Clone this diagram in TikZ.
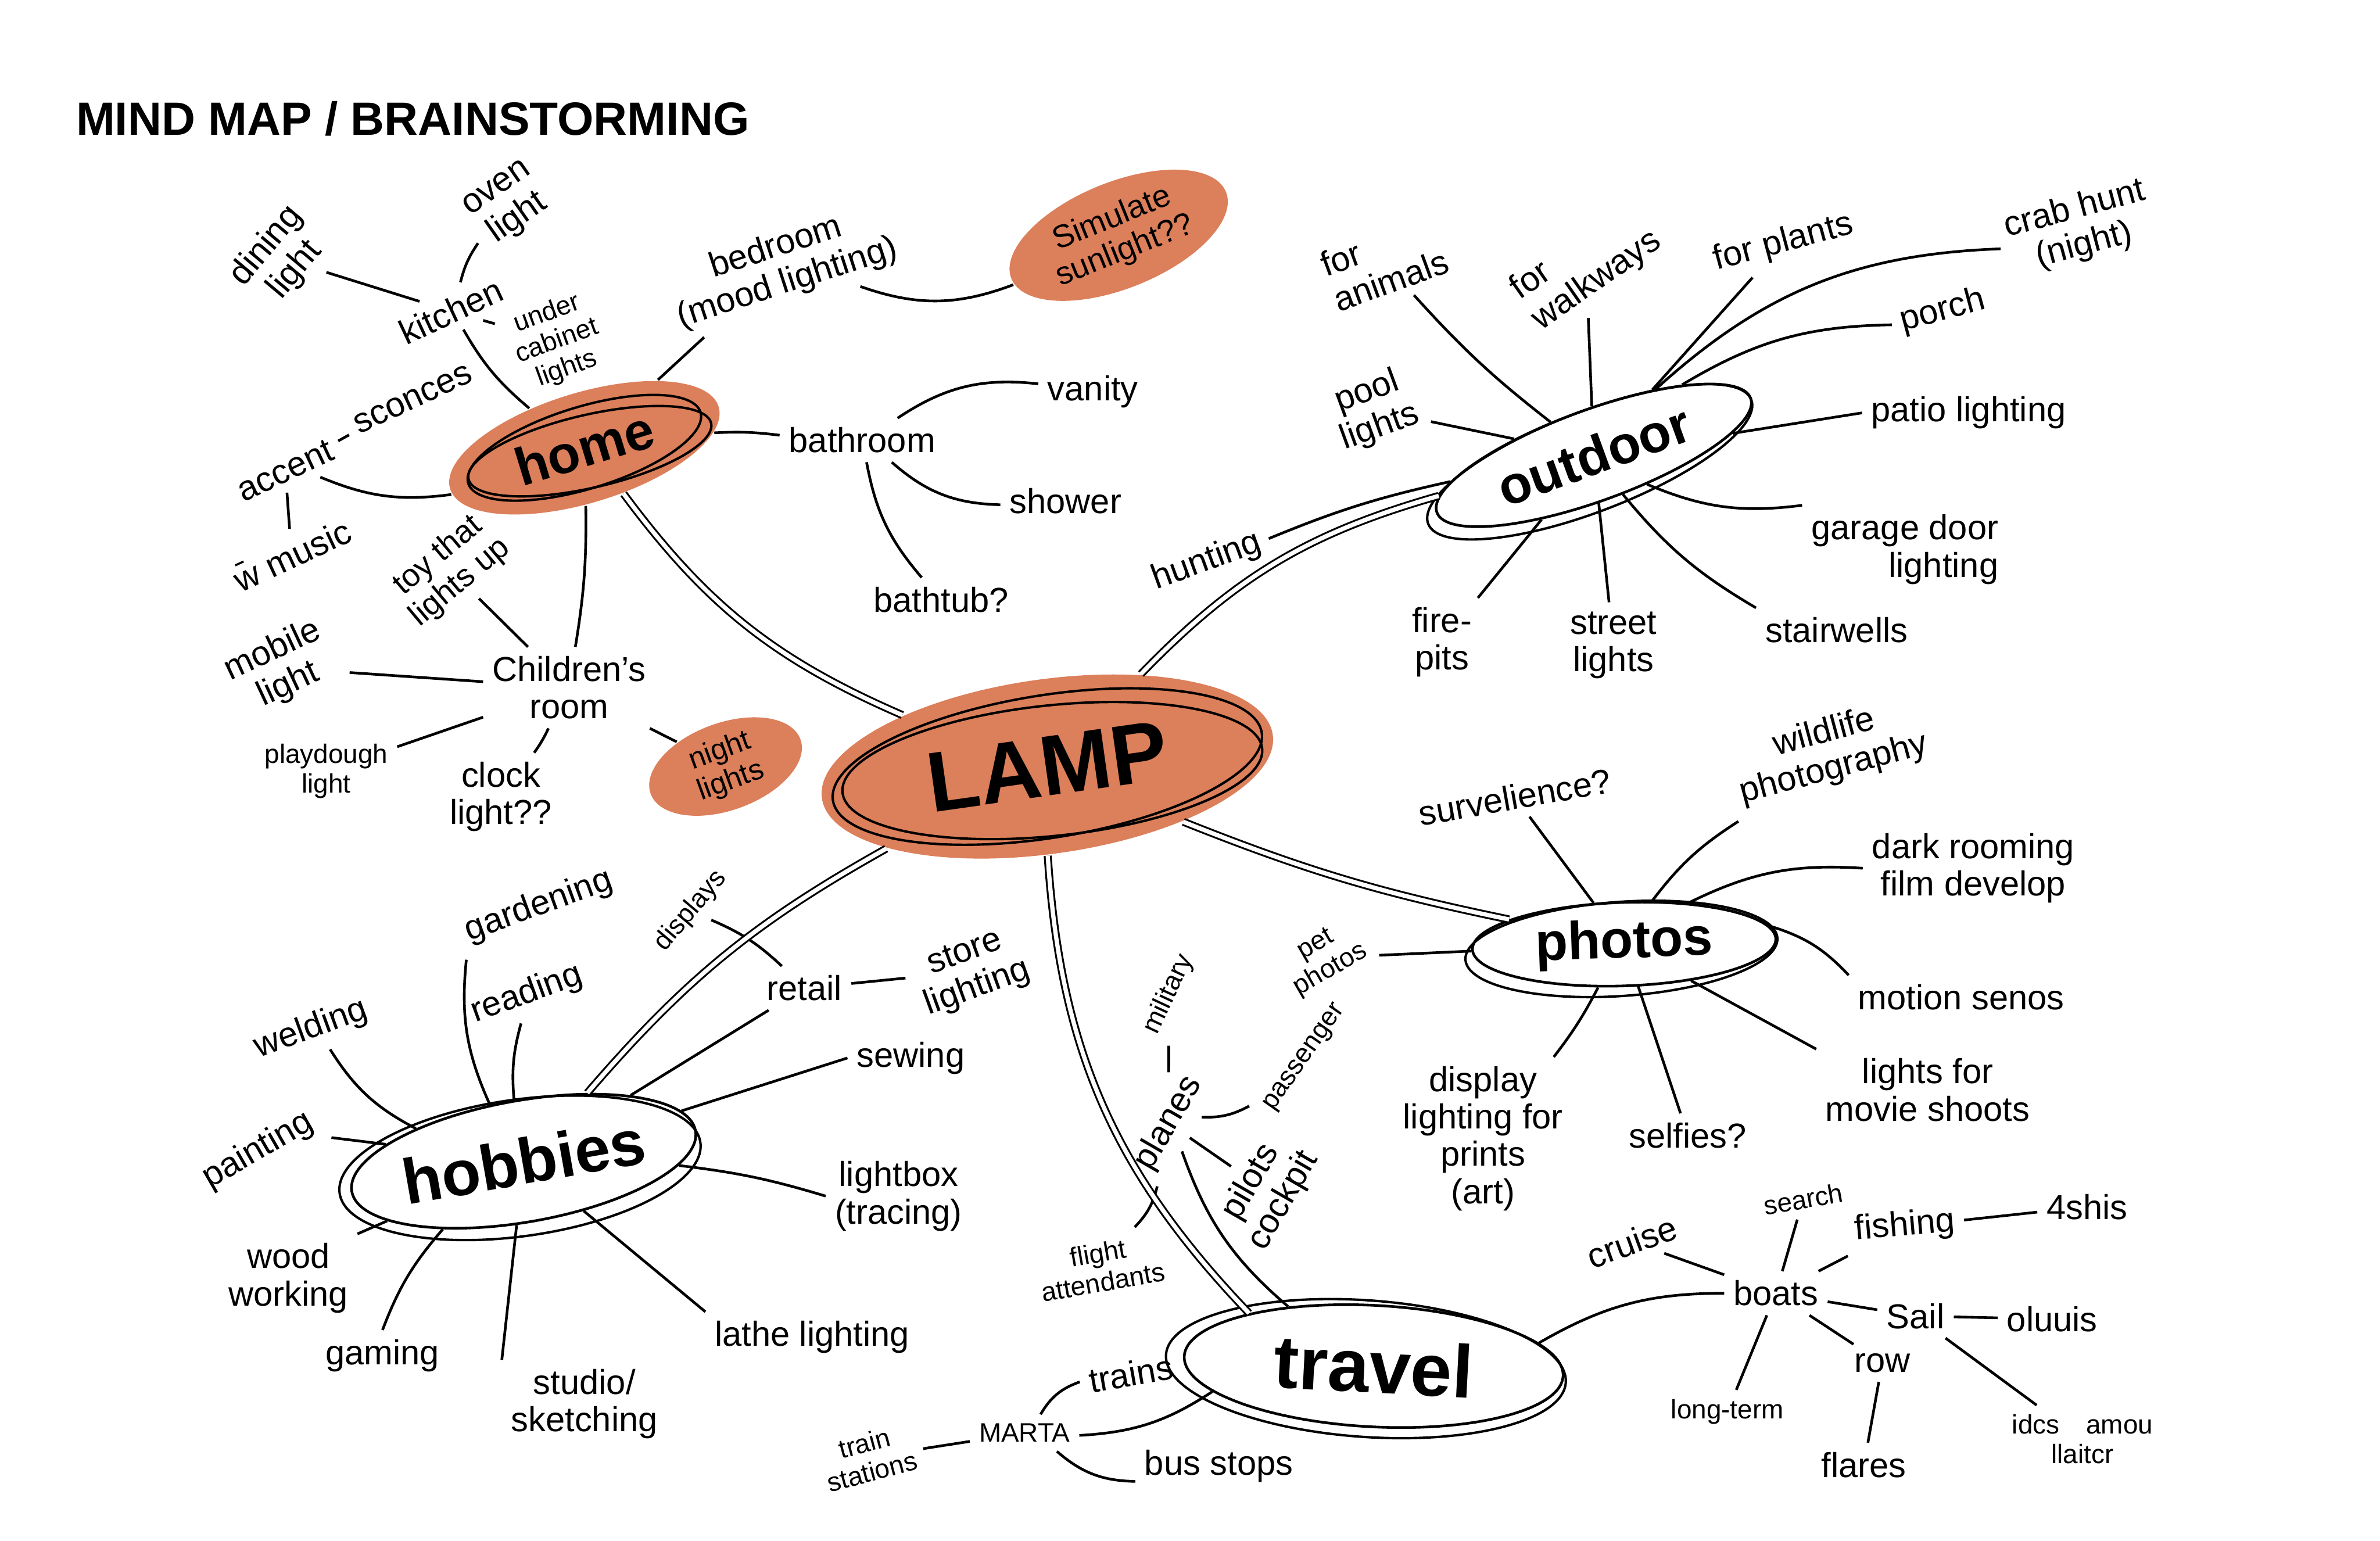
\documentclass[tikz,border=0pt]{standalone}
\usepackage{fontspec}
\setmainfont{Liberation Sans}
\usetikzlibrary{shapes.geometric}
\definecolor{lamporange}{HTML}{DC7F5B}

\tikzset{
  idea/.style={font=\fontsize{13}{14}\selectfont, align=center, inner sep=3pt},
  note/.style={font=\fontsize{10}{11}\selectfont, align=center, inner sep=3pt},
  topic/.style={ellipse, inner sep=0pt, font=\bfseries\fontsize{20}{22}\selectfont},
  ring/.style={line width=0.9pt},
  trunk/.style={double distance=1.6pt, line width=0.7pt},
}

\begin{document}
\begin{tikzpicture}[x=0.02cm,y=0.02cm,line width=1pt,every node/.style={idea}]
  \useasboundingbox (0,0) rectangle (1568,1015);

  \node[anchor=west, font=\bfseries\fontsize{17.5}{20}\selectfont] (title) at (44,937) {MIND MAP / BRAINSTORMING};

  % main topics
  \node[topic, fill=lamporange, rotate=8, minimum width=6cm, minimum height=2.3cm, font=\bfseries\fontsize{32}{34}\selectfont] (lamp) at (690,510) {LAMP};
  \draw[ring, rotate around={9:(lamp.center)}] (lamp.center) ellipse (143 and 47);
  \draw[ring, rotate around={6:(lamp.center)}] (693,507) ellipse (139 and 43);

  \node[topic, fill=lamporange, rotate=17, minimum width=3.7cm, minimum height=1.45cm] (home) at (385,720) {home};
  \draw[ring, rotate around={17:(home.center)}] (home.center) ellipse (80 and 27);
  \draw[ring, rotate around={13:(home.center)}] (388,717) ellipse (82 and 24);

  \node[topic, draw, rotate=20, minimum width=4.4cm, minimum height=1.2cm] (outdoor) at (1050,715) {outdoor};
  \draw[ring, rotate around={21:(outdoor.center)}] (1046,712) ellipse (114 and 33);

  \node[topic, draw, rotate=2, minimum width=4cm, minimum height=1.1cm] (photos) at (1070,393) {photos};
  \draw[ring, rotate around={4:(photos.center)}] (1068,390) ellipse (103 and 31);

  \node[topic, draw, rotate=10, minimum width=4.6cm, minimum height=1.6cm, font=\bfseries\fontsize{24}{26}\selectfont] (hobbies) at (345,250) {hobbies};
  \draw[ring, rotate around={8:(hobbies.center)}] (342,246) ellipse (120 and 45);

  \node[topic, draw, rotate=-3, minimum width=5cm, minimum height=1.6cm, font=\bfseries\fontsize{28}{30}\selectfont] (travel) at (905,115) {travel};
  \draw[ring, rotate around={-4:(travel.center)}] (900,113) ellipse (132 and 45);

  \node[topic, fill=lamporange, rotate=22, minimum width=3.05cm, minimum height=1.4cm, font=\fontsize{12}{13}\selectfont, align=center] (sunlight) at (737,860) {Simulate\\sunlight??};
  \node[topic, fill=lamporange, rotate=20, minimum width=2.1cm, minimum height=1.15cm, font=\fontsize{11}{12}\selectfont, align=center] (nightlights) at (478,510) {night\\lights};

  % home
  \node[rotate=50] (dining) at (185,845) {dining\\light};
  \node[rotate=35] (oven) at (335,880) {oven\\light};
  \node[rotate=25] (kitchen) at (297,810) {kitchen};
  \node[note, rotate=20] (cabinet) at (367,790) {under\\cabinet\\lights};
  \node[rotate=18] (bedroom) at (515,840) {bedroom\\(mood lighting)};
  \node[rotate=25] (accent) at (188,705) {accent};
  \node[rotate=25] (sconces) at (272,752) {sconces};
  \node[rotate=25] (music) at (192,650) {\={w} music};
  \node[rotate=40, font=\fontsize{12}{13}\selectfont] (toy) at (296,640) {toy that\\lights up};
  \node (children) at (375,562) {Children's\\room};
  \node[rotate=25] (mobile) at (185,575) {mobile\\light};
  \node[note] (playdough) at (215,507) {playdough\\light};
  \node (clock) at (330,490) {clock\\light??};
  \node (bathroom) at (568,725) {bathroom};
  \node (vanity) at (720,757) {vanity};
  \node (shower) at (702,685) {shower};
  \node (bathtub) at (620,620) {bathtub?};

  \foreach \from/\to/\b in {home/kitchen/10, kitchen/dining/0, kitchen/oven/10, kitchen/cabinet/0,
      home/bedroom/0, bedroom/sunlight/-20, home/accent/15, accent/sconces/0, accent/music/0,
      home/children/5, children/toy/0, children/mobile/0, children/playdough/0, children/clock/5,
      children/nightlights/0, home/bathroom/5, bathroom/vanity/20, bathroom/shower/-20, bathroom/bathtub/-15}
    \draw (\from) to[bend left=\b] (\to);

  % outdoor
  \node[rotate=20, align=left] (animals) at (912,842) {for\\animals};
  \node[rotate=35, align=left] (walkways) at (1045,840) {for\\walkways};
  \node[rotate=15] (plants) at (1175,855) {for plants};
  \node[rotate=15] (crab) at (1370,865) {crab hunt\\(night)};
  \node[rotate=15] (porch) at (1280,810) {porch};
  \node (patio) at (1297,743) {patio lighting};
  \node[align=right] (garage) at (1255,653) {garage door\\lighting};
  \node (stairs) at (1210,600) {stairwells};
  \node (street) at (1063,590) {street\\lights};
  \node (fire) at (950,592) {fire-\\pits};
  \node[rotate=20] (pool) at (905,745) {pool\\lights};
  \node[rotate=20] (hunting) at (795,645) {hunting};

  \foreach \from/\to/\b in {outdoor/animals/5, outdoor/walkways/0, outdoor/plants/0, outdoor/crab.west/20,
      outdoor/porch.west/15, outdoor/patio.west/0, outdoor/garage.north west/-15, outdoor/stairs.north west/-10,
      outdoor/street/0, outdoor/fire/0, outdoor/pool/0, outdoor/hunting/-5}
    \draw (\from) to[bend left=\b] (\to);

  % photos
  \node[rotate=10] (surv) at (998,490) {survelience?};
  \node[rotate=15] (wildlife) at (1205,520) {wildlife\\photography};
  \node (darkroom) at (1300,443) {dark rooming\\film develop};
  \node (motion) at (1292,358) {motion senos};
  \node (movie) at (1270,297) {lights for\\movie shoots};
  \node (selfies) at (1112,267) {selfies?};
  \node (display) at (977,265) {display\\lighting for\\prints\\(art)};
  \node[note, rotate=30] (petphotos) at (872,384) {pet\\photos};

  \foreach \from/\to/\b in {photos/surv/0, photos/wildlife.south west/10, photos/darkroom.west/15,
      photos/motion.north west/15, photos/movie.north west/0, photos/selfies/0, photos/display/5, photos/petphotos/0}
    \draw (\from) to[bend left=\b] (\to);

  % hobbies
  \node[rotate=20] (gardening) at (355,418) {gardening};
  \node[rotate=20] (welding) at (205,337) {welding};
  \node[rotate=20] (reading) at (347,360) {reading};
  \node[rotate=30] (painting) at (170,257) {painting};
  \node (wood) at (190,173) {wood\\working};
  \node (gaming) at (252,122) {gaming};
  \node (studio) at (385,90) {studio/\\sketching};
  \node (lathe) at (535,134) {lathe lighting};
  \node (lightbox) at (592,227) {lightbox\\(tracing)};
  \node (sewing) at (600,318) {sewing};
  \node (retail) at (530,364) {retail};
  \node[rotate=20] (store) at (640,375) {store\\lighting};
  \node[note, rotate=50] (displays) at (455,415) {displays};

  \foreach \from/\to/\b in {hobbies/gardening.south west/15, hobbies/welding/15, hobbies/reading/10,
      hobbies/painting.south east/0, hobbies/wood.north east/0, hobbies/gaming.north/-10,
      hobbies/studio.north west/0, hobbies/lathe.north west/0, hobbies/lightbox.west/5,
      hobbies/sewing.west/0, hobbies/retail/0, retail/store/0, retail/displays/-10}
    \draw (\from) to[bend left=\b] (\to);

  % travel
  \node[rotate=60] (planes) at (770,275) {planes};
  \node[note, rotate=65] (military) at (770,360) {military};
  \node[note, rotate=55] (passenger) at (860,318) {passenger};
  \node[rotate=60] (pilots) at (835,230) {pilots\\cockpit};
  \node[note, rotate=10] (attendants) at (725,180) {flight\\attendants};
  \node[rotate=10] (trains) at (745,110) {trains};
  \node[note] (marta) at (675,71) {MARTA};
  \node[note, rotate=15] (stations) at (572,55) {train\\stations};
  \node (bus) at (803,49) {bus stops};
  \node (boats) at (1170,163) {boats};
  \node[rotate=20] (cruise) at (1075,197) {cruise};
  \node[note, rotate=10] (search) at (1188,225) {search};
  \node[rotate=5] (fishing) at (1255,207) {fishing};
  \node (fishis) at (1375,220) {4shis};
  \node (sail) at (1262,148) {Sail};
  \node (oluuis) at (1352,146) {oluuis};
  \node[note] (longterm) at (1138,85) {long-term};
  \node (row) at (1240,117) {row};
  \node (flares) at (1228,50) {flares};
  \node[note] (ides) at (1372,67) {idcs\quad amou\\llaitcr};

  \foreach \from/\to/\b in {travel/planes/15, planes/military/0, planes/passenger/-15, planes/pilots/0,
      planes/attendants/15, travel.192/marta/15, marta/trains/20, marta/bus/-20, marta/stations/0,
      travel.11/boats.west/15, boats/cruise/0, boats/search/0, boats/fishing/0, fishing/fishis/0,
      boats/sail/0, sail/oluuis/0, boats/longterm/0, boats/row/0, row/flares/0, sail/ides/0}
    \draw (\from) to[bend left=\b] (\to);

  % branches from the lamp
  \foreach \to/\b in {home/15, outdoor/15, photos/-5, hobbies/-10, travel.160/-20}
    \draw[trunk] (lamp) to[bend left=\b] (\to);

\end{tikzpicture}
\end{document}
